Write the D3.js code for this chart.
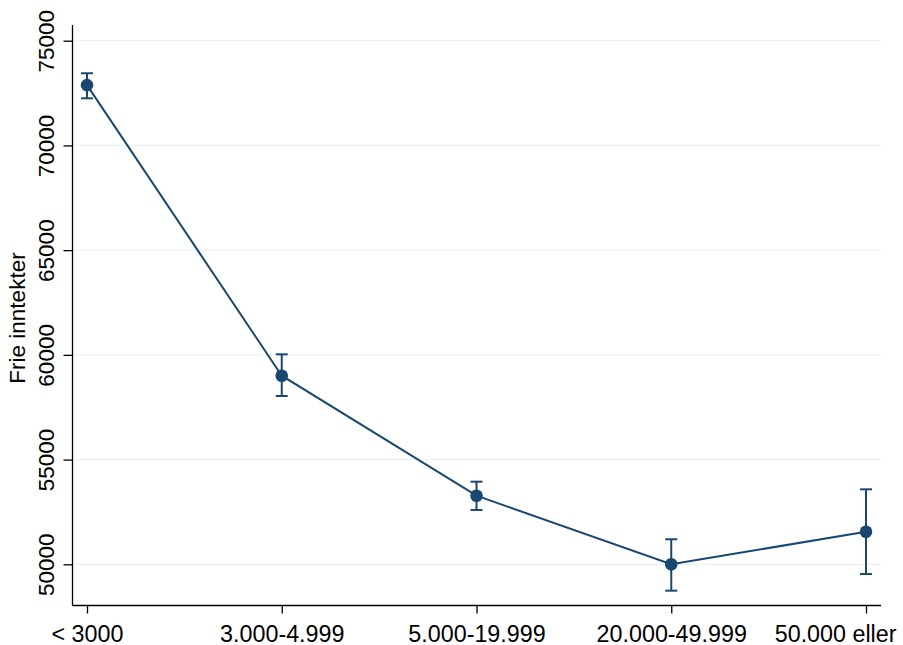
<!DOCTYPE html>
<html>
<head>
<meta charset="utf-8">
<script src="https://cdn.jsdelivr.net/npm/d3@7"></script>
<style>
  body { margin: 0; background: #fff; }
  svg text { font-family: "Liberation Sans", Arial, sans-serif; fill: #000; }
</style>
</head>
<body>
<div id="app"></div>
<script>
// kategorier og verdier lest av figuren
const categories = ["< 3000", "3.000-4.999", "5.000-19.999", "20.000-49.999", "50.000 eller"];
const means = [72880, 59005, 53275, 50000, 51555];
const lower = [72250, 58035, 52595, 48740, 49535];
const upper = [73445, 60025, 53945, 51195, 53580];
const yTicks = [50000, 55000, 60000, 65000, 70000, 75000];
const yLabel = "Frie inntekter";

const width = 903, height = 645;
const navy = "#1a476f";

const svg = d3.select("#app").append("svg")
  .attr("width", width)
  .attr("height", height);

// skalaer
const x = d3.scalePoint().domain(categories).range([87, 866]);
const y = d3.scaleLinear().domain([50000, 75000]).range([564.3, 40.7]);

const plotLeft = 72.5, plotRight = 881, plotTop = 25, plotBottom = 605.5;

// rutenett
svg.append("g")
  .selectAll("line")
  .data(yTicks)
  .join("line")
  .attr("x1", plotLeft).attr("x2", plotRight)
  .attr("y1", d => y(d)).attr("y2", d => y(d))
  .attr("stroke", "#eaf2f3")
  .attr("stroke-width", 1.3);

// y-akse
const yAxis = svg.append("g")
  .attr("transform", `translate(${plotLeft},0)`)
  .call(d3.axisLeft(y).tickValues(yTicks).tickSize(9).tickPadding(0).tickFormat(d3.format("d")));
yAxis.select(".domain").remove();
yAxis.append("line")
  .attr("x1", 0).attr("x2", 0).attr("y1", plotTop).attr("y2", plotBottom)
  .attr("stroke", "#000").attr("stroke-width", 1.3);
yAxis.selectAll(".tick line").attr("stroke", "#000").attr("stroke-width", 1.3);
yAxis.selectAll(".tick text")
  .attr("x", null).attr("dy", null)
  .attr("text-anchor", "middle")
  .attr("transform", "translate(-18.5,0) rotate(-90)")
  .style("font-size", "22.5px");

// x-akse
const xAxis = svg.append("g")
  .attr("transform", `translate(0,${plotBottom})`)
  .call(d3.axisBottom(x).tickSize(8).tickPadding(0));
xAxis.select(".domain").remove();
xAxis.append("line")
  .attr("x1", plotLeft).attr("x2", plotRight)
  .attr("stroke", "#000").attr("stroke-width", 1.3);
xAxis.selectAll(".tick line").attr("stroke", "#000").attr("stroke-width", 1.3);
xAxis.selectAll(".tick text")
  .attr("y", 36).attr("dy", null)
  .style("font-size", "23.3px");
// siste etikett skyves inn slik at den får plass
xAxis.selectAll(".tick text")
  .filter(d => d === categories[categories.length - 1])
  .attr("text-anchor", "end")
  .attr("x", 896 - x(categories[categories.length - 1]));

// aksetittel
svg.append("text")
  .attr("transform", "translate(25,318) rotate(-90)")
  .attr("text-anchor", "middle")
  .style("font-size", "22.5px")
  .text(yLabel);

// linje
const line = d3.line()
  .x((d, i) => x(categories[i]))
  .y(d => y(d));
svg.append("path")
  .datum(means)
  .attr("d", line)
  .attr("fill", "none")
  .attr("stroke", navy)
  .attr("stroke-width", 2);

// feilstolper
const bars = svg.append("g")
  .selectAll("g")
  .data(categories)
  .join("g")
  .attr("stroke", navy)
  .attr("stroke-width", 2);
bars.append("line")
  .attr("x1", d => x(d)).attr("x2", d => x(d))
  .attr("y1", (d, i) => y(lower[i])).attr("y2", (d, i) => y(upper[i]));
bars.append("line")
  .attr("x1", d => x(d) - 6).attr("x2", d => x(d) + 6)
  .attr("y1", (d, i) => y(lower[i])).attr("y2", (d, i) => y(lower[i]));
bars.append("line")
  .attr("x1", d => x(d) - 6).attr("x2", d => x(d) + 6)
  .attr("y1", (d, i) => y(upper[i])).attr("y2", (d, i) => y(upper[i]));

// punkter
svg.append("g")
  .selectAll("circle")
  .data(means)
  .join("circle")
  .attr("cx", (d, i) => x(categories[i]))
  .attr("cy", d => y(d))
  .attr("r", 6.3)
  .attr("fill", navy);
</script>
</body>
</html>
